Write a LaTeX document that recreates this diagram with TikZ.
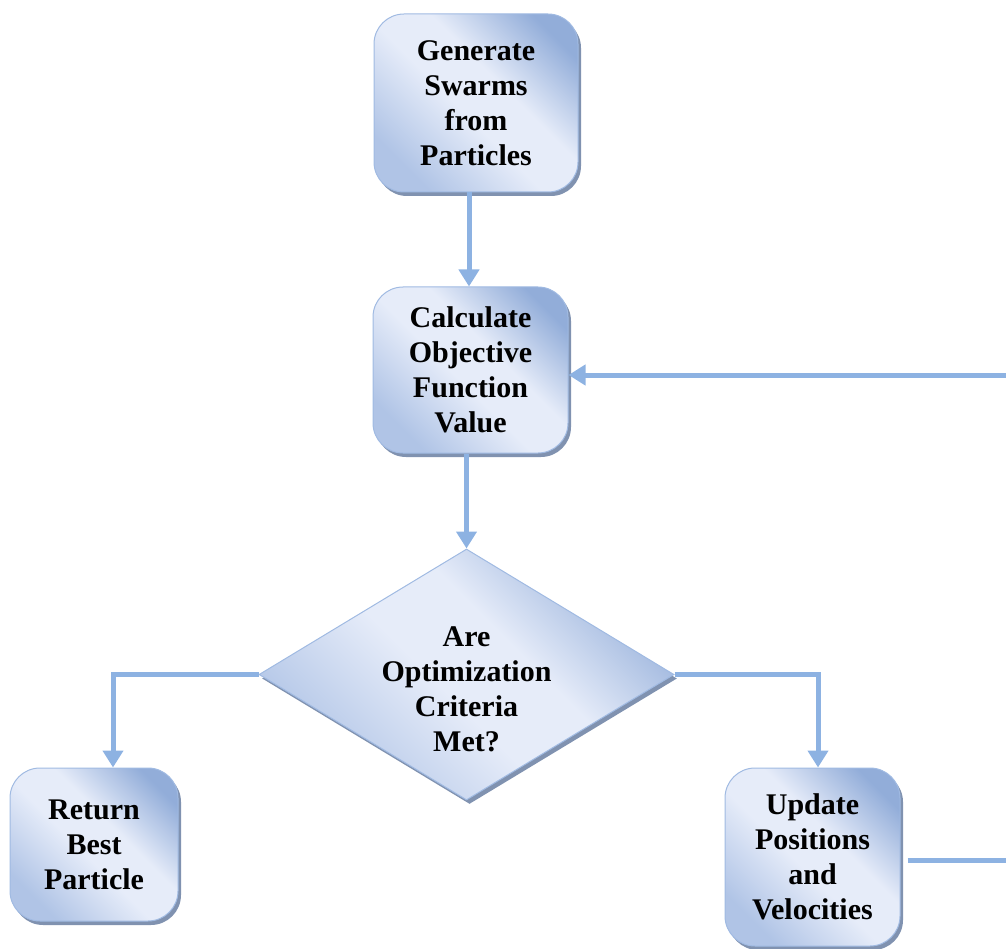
\documentclass[tikz,border=0pt]{standalone}
\usepackage{fontspec}
\setmainfont{Liberation Serif}
\usetikzlibrary{shapes.geometric,arrows.meta,shadows}

\definecolor{flowline}{RGB}{141,178,226}
\definecolor{boxdark}{RGB}{146,173,217}
\definecolor{boxmid}{RGB}{176,196,230}
\definecolor{boxlight}{RGB}{230,236,249}
\definecolor{boxedge}{RGB}{160,186,226}
\definecolor{boxshadow}{RGB}{128,146,176}

% diagonal fill: darker corner, pale middle band
\pgfdeclareverticalshading{boxgrad}{100bp}{%
  color(0bp)=(boxmid); color(25bp)=(boxmid); color(46bp)=(boxlight);
  color(58bp)=(boxlight); color(77bp)=(boxdark); color(100bp)=(boxdark)}

\tikzset{
  flowtext/.style={font=\bfseries\fontsize{30}{35}\selectfont, align=center},
  stepbox/.style={flowtext, rectangle, rounded corners=30pt, inner sep=0pt,
    draw=boxedge, line width=1pt, shade, shading=boxgrad, shading angle=-45,
    general shadow={fill=boxshadow, shadow xshift=3pt, shadow yshift=-4pt}},
  testbox/.style={diamond, inner sep=0pt, shape aspect=1.65,
    draw=boxedge, line width=1pt, shade, shading=boxgrad, shading angle=-45,
    general shadow={fill=boxshadow, shadow xshift=3pt, shadow yshift=-4pt}},
  arr/.style={draw=flowline, line width=5pt,
    -{Triangle[width=20pt,length=17pt]}}
}

\begin{document}
\begin{tikzpicture}[x=1pt,y=1pt]
\useasboundingbox (0,0) rectangle (1006,-949);

\node[stepbox, minimum width=204pt, minimum height=178pt] (gen) at (476,-103)
  {Generate\\Swarms\\from\\Particles};
\node[stepbox, minimum width=195pt, minimum height=166pt] (calc) at (470.5,-370)
  {Calculate\\Objective\\Function\\Value};
\node[testbox, minimum width=415pt, minimum height=251pt] (dec) at (466.5,-674.5) {};
\node[flowtext] (dectxt) at (466.5,-689.5) {Are\\Optimization\\Criteria\\Met?};
\node[stepbox, minimum width=168pt, minimum height=153pt] (ret) at (94,-844.5)
  {Return\\Best\\Particle};
\node[stepbox, minimum width=175pt, minimum height=178pt] (upd) at (812.5,-857)
  {Update\\Positions\\and\\Velocities};

% the return path runs along the right edge
\coordinate (loopR) at (1008,-860);

\draw[arr] ([xshift=-7pt]gen.south) -- ([xshift=-1.5pt]calc.north);
\draw[arr] (calc.south -| dec.north) -- (dec.north);
\draw[arr] (dec.west) -| ([xshift=19pt]ret.north);
\draw[arr] (dec.east) -| ([xshift=5.5pt]upd.north);
\draw[arr] ([xshift=7pt,yshift=-3pt]upd.east) -- (loopR) |- ([yshift=-5pt]calc.east);
\end{tikzpicture}
\end{document}
